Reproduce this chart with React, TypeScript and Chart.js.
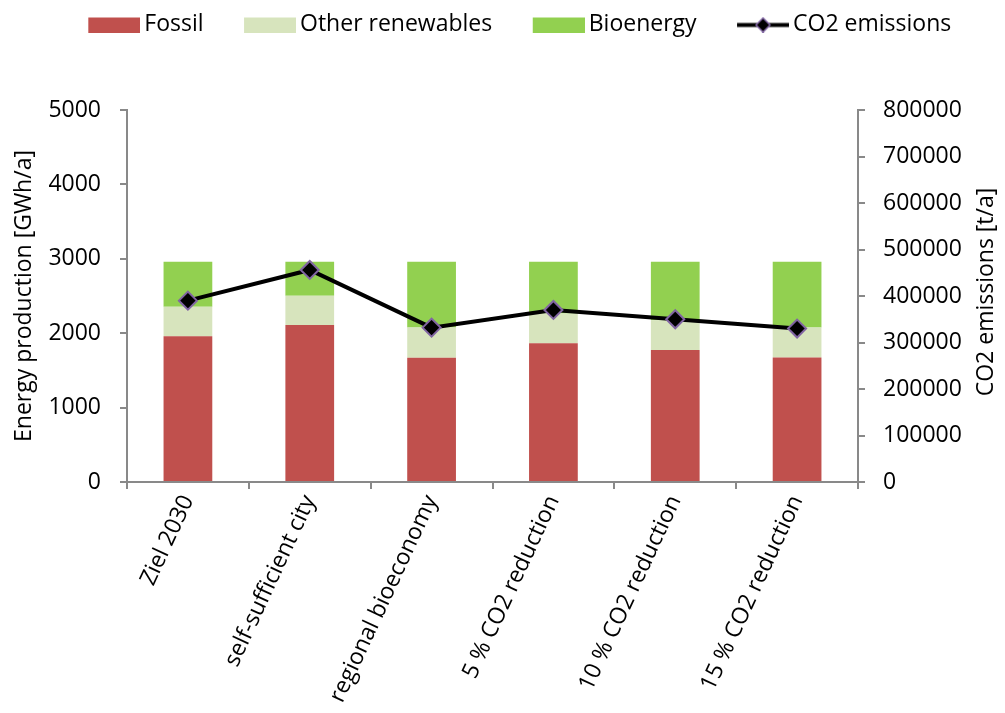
import React, { useEffect, useRef } from 'react';
import { Chart, registerables } from 'chart.js';

Chart.register(...registerables);

const categories = [
  'Ziel 2030',
  'self-sufficient city',
  'regional bioeconomy',
  '5 % CO2 reduction',
  '10 % CO2 reduction',
  '15 % CO2 reduction',
];
const fossil = [1960, 2110, 1670, 1865, 1775, 1675];
const otherRenewables = [395, 395, 405, 400, 400, 400];
const bioenergy = [605, 455, 885, 695, 785, 885];
const co2Emissions = [390000, 456000, 332000, 370000, 350000, 330000];

const energyMin = 0;
const energyMax = 5000;
const energyStep = 1000;
const co2Min = 0;
const co2Max = 800000;
const co2Step = 100000;

const seriesNames = ['Fossil', 'Other renewables', 'Bioenergy', 'CO2 emissions'];
const leftTitle = 'Energy production [GWh/a]';
const rightTitle = 'CO2 emissions [t/a]';

const FONT = '"Open Sans"';
const FONT_SIZE = 23;
const AXIS_GRAY = '#898989';
const COLORS = ['#C0504D', '#D7E4BD', '#92D050'];

function makeSwatch(color: string | null): HTMLCanvasElement {
  const c = document.createElement('canvas');
  c.width = 94;
  c.height = 16;
  const ctx = c.getContext('2d')!;
  if (color) {
    ctx.fillStyle = color;
    ctx.fillRect(42, 1, 52, 15);
  } else {
    ctx.strokeStyle = '#000';
    ctx.lineWidth = 4;
    ctx.beginPath();
    ctx.moveTo(42, 8.5);
    ctx.lineTo(94, 8.5);
    ctx.stroke();
    ctx.beginPath();
    const cx = 68, cy = 8.5, r = 7;
    ctx.moveTo(cx, cy - r);
    ctx.lineTo(cx + r, cy);
    ctx.lineTo(cx, cy + r);
    ctx.lineTo(cx - r, cy);
    ctx.closePath();
    ctx.fillStyle = '#000';
    ctx.fill();
    ctx.strokeStyle = '#8064A2';
    ctx.lineWidth = 1.5;
    ctx.stroke();
  }
  return c;
}

const rightTitlePlugin = {
  id: 'rightTitle',
  afterDraw(chart: any) {
    const ctx = chart.ctx;
    const { top, bottom } = chart.chartArea;
    const x = chart.scales.y1.right - 19;
    ctx.save();
    ctx.translate(x, (top + bottom) / 2 - 4);
    ctx.rotate(-Math.PI / 2);
    ctx.font = `${FONT_SIZE}px ${FONT}`;
    ctx.fillStyle = '#000';
    ctx.textAlign = 'center';
    ctx.textBaseline = 'middle';
    ctx.fillText(rightTitle, 0, 0);
    ctx.restore();
  },
};

export default function App() {
  const ref = useRef<HTMLCanvasElement>(null);

  useEffect(() => {
    document.body.style.margin = '0';
    document.body.style.overflow = 'hidden';
    const swatches = [makeSwatch(COLORS[0]), makeSwatch(COLORS[1]), makeSwatch(COLORS[2]), makeSwatch(null)];
    const font = { family: FONT, size: FONT_SIZE };
    const chart = new Chart(ref.current!, {
      type: 'bar',
      data: {
        labels: categories,
        datasets: [
          { type: 'bar', label: seriesNames[0], data: fossil, backgroundColor: COLORS[0], yAxisID: 'y', order: 1, barPercentage: 0.4, categoryPercentage: 1 },
          { type: 'bar', label: seriesNames[1], data: otherRenewables, backgroundColor: COLORS[1], yAxisID: 'y', order: 1, barPercentage: 0.4, categoryPercentage: 1 },
          { type: 'bar', label: seriesNames[2], data: bioenergy, backgroundColor: COLORS[2], yAxisID: 'y', order: 1, barPercentage: 0.4, categoryPercentage: 1 },
          {
            type: 'line',
            label: seriesNames[3],
            data: co2Emissions,
            yAxisID: 'y1',
            order: 0,
            borderColor: '#000',
            borderWidth: 4,
            tension: 0,
            pointStyle: 'rectRot',
            pointRadius: 9,
            pointBackgroundColor: '#000',
            pointBorderColor: '#8064A2',
            pointBorderWidth: 2,
          } as any,
        ],
      },
      options: {
        responsive: false,
        animation: false,
        layout: { padding: { top: 7, left: 0, right: 0, bottom: 0 } },
        plugins: {
          tooltip: { enabled: false },
          legend: {
            position: 'top',
            labels: {
              usePointStyle: true,
              pointStyleWidth: 79,
              padding: 6,
              color: '#000',
              font,
              generateLabels: (c: any) => {
                const items = (Chart.defaults.plugins.legend.labels as any).generateLabels(c);
                return items
                  .sort((a: any, b: any) => a.datasetIndex - b.datasetIndex)
                  .map((it: any) => ({ ...it, pointStyle: swatches[it.datasetIndex], lineWidth: 0 }));
              },
            },
          },
          subtitle: {
            display: true,
            text: '',
            position: 'top',
            weight: 500,
            font: { size: 10 },
            padding: { top: 52, bottom: 0 },
          } as any,
        },
        scales: {
          x: {
            stacked: true,
            grid: { display: true, drawOnChartArea: false, drawTicks: true, tickLength: 7, offset: true, color: AXIS_GRAY, lineWidth: 2 },
            border: { color: AXIS_GRAY, width: 2 },
            ticks: { minRotation: 65, maxRotation: 65, autoSkip: false, color: '#000', font, padding: 2 },
            afterFit: (s: any) => { s.height = 231; },
          },
          y: {
            position: 'left',
            stacked: true,
            min: energyMin,
            max: energyMax,
            ticks: { stepSize: energyStep, color: '#000', font, padding: 19, callback: (v: any) => String(v) },
            grid: { drawOnChartArea: false, drawTicks: true, tickLength: 7, color: AXIS_GRAY, lineWidth: 2 },
            border: { color: AXIS_GRAY, width: 2 },
            title: { display: true, text: leftTitle, color: '#000', font, padding: { top: 11, bottom: 0 } },
            afterFit: (s: any) => { s.width = 127; },
          },
          y1: {
            position: 'right',
            stacked: false,
            min: co2Min,
            max: co2Max,
            ticks: { stepSize: co2Step, color: '#000', font, padding: 18, callback: (v: any) => String(v) },
            grid: { drawOnChartArea: false, drawTicks: true, tickLength: 7, color: AXIS_GRAY, lineWidth: 2 },
            border: { color: AXIS_GRAY, width: 2 },
            afterFit: (s: any) => { s.width = 147; },
          },
        },
      } as any,
      plugins: [rightTitlePlugin],
    });
    return () => chart.destroy();
  }, []);

  return (
    <div style={{ width: 1005, height: 713 }}>
      <canvas ref={ref} width={1005} height={713} style={{ display: 'block' }} />
    </div>
  );
}
